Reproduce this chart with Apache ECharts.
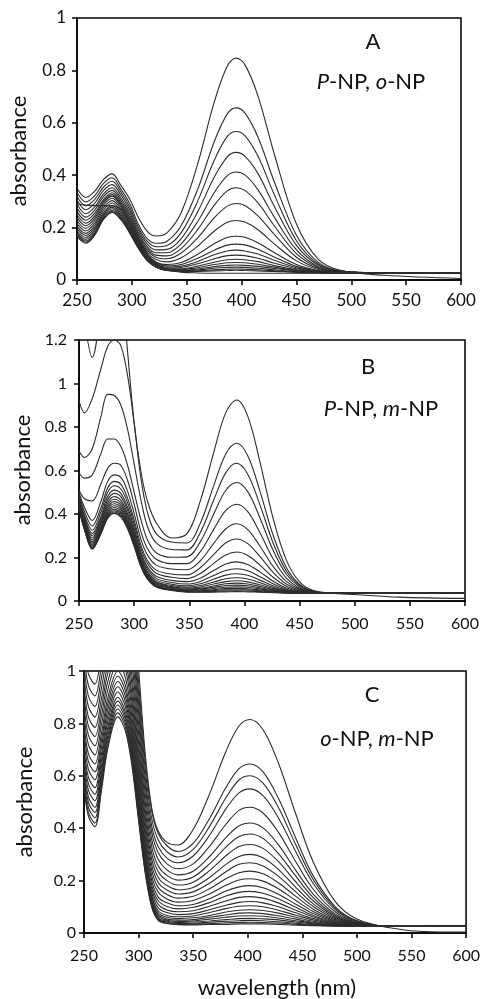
<!DOCTYPE html>
<html><head><meta charset="utf-8">
<script src="https://cdn.jsdelivr.net/npm/echarts@6/dist/echarts.min.js"></script>
<style>html,body{margin:0;padding:0;background:#fff}#c{width:483px;height:999px}</style>
</head><body><div id="c"></div>
<script>
// ---- tick values ----
const xTicks = [250, 300, 350, 400, 450, 500, 550, 600];
const yTicksA = [0, 0.2, 0.4, 0.6, 0.8, 1];
const yTicksB = [0, 0.2, 0.4, 0.6, 0.8, 1, 1.2];
const yTicksC = [0, 0.2, 0.4, 0.6, 0.8, 1];

// ---- panel A : P-NP, o-NP ----
const wlA = [250,258,266,274,282,290,298,306,314,322,332,345,360,375,387,395,403,415,430,450,470,490,530,600];
const a0  = [0.350,0.315,0.338,0.383,0.405,0.361,0.309,0.238,0.186,0.168,0.180,0.258,0.443,0.678,0.817,0.847,0.822,0.702,0.478,0.214,0.079,0.037,0.018,0.006];
const a1  = [0.335,0.298,0.321,0.368,0.390,0.347,0.292,0.212,0.158,0.140,0.148,0.208,0.346,0.527,0.634,0.657,0.638,0.545,0.373,0.171,0.067,0.035,0.027,0.028];
const a2  = [0.320,0.283,0.307,0.354,0.377,0.336,0.280,0.201,0.147,0.127,0.132,0.181,0.301,0.456,0.548,0.567,0.551,0.472,0.324,0.150,0.061,0.034,0.027,0.028];
const a3  = [0.305,0.268,0.292,0.341,0.364,0.325,0.268,0.191,0.137,0.115,0.117,0.158,0.260,0.392,0.470,0.487,0.473,0.406,0.280,0.132,0.056,0.033,0.027,0.028];
const a4  = [0.290,0.253,0.278,0.328,0.352,0.313,0.258,0.181,0.127,0.104,0.104,0.138,0.223,0.333,0.398,0.412,0.401,0.344,0.239,0.115,0.051,0.032,0.027,0.028];
const a5  = [0.276,0.240,0.266,0.318,0.342,0.304,0.248,0.174,0.120,0.095,0.092,0.120,0.192,0.285,0.340,0.352,0.342,0.294,0.206,0.101,0.048,0.031,0.027,0.028];
const a6  = [0.262,0.228,0.254,0.307,0.333,0.296,0.240,0.166,0.112,0.087,0.081,0.103,0.161,0.237,0.282,0.292,0.284,0.245,0.173,0.087,0.044,0.030,0.027,0.028];
const a7  = [0.250,0.217,0.244,0.300,0.326,0.290,0.232,0.160,0.105,0.078,0.069,0.085,0.129,0.186,0.220,0.227,0.221,0.192,0.137,0.073,0.040,0.029,0.027,0.028];
const a8  = [0.238,0.207,0.235,0.293,0.320,0.285,0.226,0.153,0.098,0.069,0.059,0.067,0.098,0.138,0.162,0.167,0.163,0.142,0.104,0.059,0.036,0.029,0.027,0.028];
const a9  = [0.226,0.197,0.226,0.285,0.312,0.278,0.219,0.148,0.094,0.066,0.054,0.059,0.083,0.114,0.133,0.137,0.134,0.117,0.087,0.052,0.034,0.028,0.027,0.028];
const a10 = [0.215,0.187,0.216,0.275,0.303,0.270,0.212,0.143,0.090,0.062,0.049,0.053,0.071,0.096,0.111,0.114,0.111,0.099,0.075,0.047,0.033,0.028,0.027,0.028];
const a11 = [0.205,0.178,0.207,0.266,0.294,0.262,0.206,0.138,0.086,0.059,0.046,0.048,0.062,0.081,0.093,0.095,0.093,0.083,0.064,0.043,0.031,0.028,0.027,0.028];
const a12 = [0.196,0.170,0.199,0.256,0.285,0.254,0.199,0.133,0.083,0.056,0.043,0.043,0.053,0.068,0.077,0.079,0.077,0.070,0.055,0.039,0.030,0.027,0.027,0.028];
const a13 = [0.188,0.162,0.191,0.250,0.278,0.248,0.195,0.130,0.080,0.055,0.042,0.040,0.047,0.059,0.066,0.067,0.066,0.060,0.049,0.036,0.030,0.027,0.027,0.028];
const a14 = [0.181,0.155,0.184,0.244,0.272,0.243,0.190,0.127,0.079,0.052,0.039,0.037,0.042,0.051,0.056,0.057,0.056,0.052,0.044,0.034,0.029,0.027,0.027,0.028];
const a15 = [0.175,0.149,0.178,0.238,0.266,0.237,0.186,0.124,0.077,0.052,0.038,0.035,0.038,0.045,0.048,0.049,0.048,0.045,0.039,0.032,0.028,0.027,0.027,0.028];
const a16 = [0.170,0.144,0.173,0.233,0.261,0.233,0.182,0.122,0.075,0.050,0.036,0.033,0.035,0.039,0.041,0.042,0.041,0.039,0.035,0.030,0.028,0.027,0.027,0.028];
const a17 = [0.166,0.140,0.170,0.230,0.258,0.230,0.179,0.120,0.074,0.049,0.036,0.032,0.033,0.035,0.036,0.037,0.036,0.035,0.033,0.029,0.028,0.027,0.027,0.028];
const aW  = [0.290,0.286,0.284,0.284,0.283,0.270,0.215,0.155,0.100,0.065,0.040,0.030,0.027,0.026,0.026,0.026,0.026,0.026,0.026,0.026,0.026,0.026,0.026,0.027];

// ---- panel B : P-NP, m-NP ----
const wlB = [250,255,262,270,276,282,288,294,300,306,312,320,334,348,360,372,383,393,403,414,426,438,450,462,480,500,540,600];
const b0  = [1.6,1.3,1.12,1.35,1.6,1.7,1.5,1.15,0.82,0.6,0.46,0.36,0.29,0.31,0.46,0.68,0.865,0.924,0.85,0.641,0.38,0.188,0.088,0.049,0.036,0.03,0.018,0.012];
const b1  = [0.92,0.865,0.93,1.07,1.17,1.2,1.173,1.037,0.817,0.569,0.409,0.310,0.271,0.267,0.358,0.528,0.675,0.725,0.668,0.506,0.303,0.154,0.076,0.046,0.036,0.035,0.035,0.036];
const b2  = [0.69,0.66,0.70,0.85,0.95,0.945,0.90,0.79,0.63,0.469,0.344,0.267,0.237,0.235,0.315,0.462,0.589,0.633,0.583,0.443,0.267,0.138,0.071,0.045,0.036,0.035,0.035,0.036];
const b3  = [0.59,0.565,0.58,0.68,0.745,0.745,0.71,0.625,0.50,0.377,0.282,0.222,0.201,0.203,0.272,0.398,0.508,0.545,0.503,0.383,0.233,0.123,0.065,0.043,0.036,0.035,0.035,0.036];
const b4  = [0.51,0.47,0.46,0.54,0.61,0.633,0.623,0.555,0.446,0.321,0.241,0.192,0.172,0.172,0.227,0.328,0.415,0.445,0.411,0.315,0.194,0.105,0.059,0.042,0.036,0.035,0.035,0.036];
const b5  = [0.50,0.43,0.37,0.46,0.55,0.58,0.568,0.505,0.402,0.286,0.212,0.165,0.147,0.144,0.185,0.264,0.331,0.355,0.328,0.253,0.159,0.090,0.054,0.040,0.035,0.035,0.035,0.036];
const b6  = [0.49,0.41,0.345,0.43,0.52,0.55,0.536,0.473,0.373,0.259,0.187,0.142,0.124,0.120,0.153,0.213,0.267,0.285,0.264,0.205,0.132,0.078,0.050,0.039,0.035,0.035,0.035,0.036];
const b7  = [0.48,0.395,0.325,0.41,0.50,0.53,0.515,0.453,0.354,0.243,0.173,0.128,0.109,0.103,0.126,0.172,0.211,0.225,0.209,0.165,0.109,0.068,0.046,0.038,0.035,0.035,0.035,0.036];
const b8  = [0.47,0.385,0.31,0.39,0.48,0.51,0.494,0.432,0.336,0.227,0.157,0.114,0.095,0.089,0.105,0.140,0.170,0.180,0.168,0.134,0.091,0.060,0.044,0.037,0.035,0.035,0.035,0.036];
const b9  = [0.46,0.375,0.30,0.38,0.465,0.495,0.479,0.418,0.323,0.215,0.147,0.104,0.085,0.078,0.090,0.117,0.140,0.148,0.139,0.112,0.079,0.054,0.042,0.037,0.035,0.035,0.035,0.036];
const b10 = [0.455,0.365,0.29,0.37,0.452,0.48,0.463,0.403,0.31,0.204,0.137,0.096,0.077,0.070,0.079,0.100,0.119,0.125,0.118,0.096,0.070,0.050,0.040,0.036,0.035,0.035,0.035,0.036];
const b11 = [0.45,0.36,0.28,0.36,0.44,0.468,0.451,0.392,0.30,0.196,0.13,0.089,0.071,0.064,0.071,0.087,0.102,0.107,0.101,0.084,0.063,0.047,0.039,0.036,0.035,0.035,0.035,0.036];
const b12 = [0.445,0.355,0.272,0.35,0.43,0.457,0.44,0.381,0.291,0.189,0.124,0.085,0.066,0.059,0.064,0.078,0.089,0.093,0.088,0.075,0.058,0.045,0.038,0.036,0.035,0.035,0.035,0.036];
const b13 = [0.44,0.35,0.265,0.34,0.42,0.447,0.429,0.371,0.283,0.183,0.12,0.08,0.062,0.055,0.059,0.069,0.079,0.082,0.078,0.067,0.053,0.043,0.038,0.036,0.035,0.035,0.035,0.036];
const b14 = [0.435,0.345,0.258,0.333,0.41,0.438,0.421,0.363,0.276,0.177,0.115,0.076,0.059,0.052,0.055,0.063,0.071,0.073,0.070,0.061,0.050,0.042,0.037,0.036,0.035,0.035,0.035,0.036];
const b15 = [0.43,0.34,0.252,0.327,0.403,0.43,0.412,0.356,0.27,0.173,0.112,0.073,0.056,0.049,0.051,0.057,0.063,0.065,0.063,0.056,0.047,0.040,0.037,0.035,0.035,0.035,0.035,0.036];
const b16 = [0.428,0.336,0.247,0.322,0.396,0.422,0.405,0.349,0.265,0.169,0.108,0.07,0.053,0.047,0.047,0.052,0.057,0.058,0.056,0.051,0.044,0.039,0.036,0.035,0.035,0.035,0.035,0.036];
const b17 = [0.425,0.332,0.243,0.317,0.39,0.415,0.398,0.343,0.26,0.165,0.105,0.068,0.051,0.045,0.045,0.048,0.051,0.052,0.051,0.047,0.042,0.038,0.036,0.035,0.035,0.035,0.035,0.036];
const b18 = [0.422,0.329,0.24,0.313,0.385,0.409,0.392,0.337,0.255,0.162,0.103,0.0665,0.0496,0.043,0.042,0.044,0.046,0.047,0.046,0.043,0.040,0.037,0.036,0.035,0.035,0.035,0.035,0.036];
const b19 = [0.42,0.326,0.238,0.31,0.38,0.403,0.386,0.332,0.251,0.159,0.101,0.064,0.048,0.041,0.040,0.041,0.042,0.043,0.042,0.0405,0.038,0.036,0.035,0.035,0.035,0.035,0.035,0.036];

// ---- panel C : o-NP, m-NP ----
const wlC = [250,254,260,266,272,281,288,294,300,306,312,318,326,336,350,365,380,392,402,414,428,444,460,480,500,530,560,600];
const c0  = [1.36,1.24,1.2,1.332,1.488,1.6,1.536,1.333,1.009,0.689,0.478,0.389,0.346,0.336,0.395,0.531,0.693,0.79,0.815,0.776,0.65,0.454,0.271,0.121,0.053,0.02,0.006,0.004];
const c1  = [1.31,1.19,1.15,1.266,1.402,1.5,1.441,1.257,0.958,0.661,0.467,0.38,0.333,0.311,0.342,0.437,0.555,0.627,0.645,0.615,0.515,0.362,0.218,0.101,0.047,0.026,0.026,0.028];
const c2  = [1.26,1.14,1.1,1.216,1.352,1.45,1.392,1.209,0.917,0.629,0.438,0.355,0.31,0.29,0.319,0.407,0.516,0.584,0.6,0.572,0.48,0.337,0.204,0.095,0.046,0.026,0.026,0.028];
const c3  = [1.21,1.09,1.05,1.166,1.302,1.4,1.342,1.163,0.878,0.595,0.409,0.329,0.286,0.268,0.294,0.373,0.474,0.535,0.55,0.524,0.44,0.31,0.189,0.089,0.044,0.026,0.026,0.028];
const c4  = [1.16,1.04,1.0,1.116,1.252,1.35,1.292,1.119,0.841,0.566,0.385,0.306,0.264,0.245,0.264,0.331,0.415,0.468,0.48,0.458,0.385,0.272,0.167,0.081,0.041,0.026,0.026,0.028];
const c5  = [1.11,0.99,0.95,1.066,1.202,1.3,1.243,1.072,0.801,0.534,0.357,0.281,0.241,0.222,0.236,0.292,0.364,0.409,0.42,0.401,0.337,0.239,0.148,0.073,0.039,0.026,0.026,0.028];
const c6  = [1.065,0.945,0.905,1.019,1.153,1.25,1.192,1.026,0.762,0.502,0.331,0.256,0.22,0.202,0.214,0.264,0.328,0.368,0.378,0.361,0.304,0.217,0.135,0.068,0.038,0.026,0.026,0.028];
const c7  = [1.025,0.905,0.865,0.976,1.106,1.2,1.143,0.981,0.724,0.472,0.305,0.234,0.2,0.183,0.194,0.238,0.295,0.33,0.338,0.323,0.273,0.195,0.123,0.063,0.036,0.026,0.026,0.028];
const c8  = [0.985,0.865,0.825,0.936,1.066,1.16,1.103,0.945,0.692,0.445,0.282,0.212,0.181,0.165,0.174,0.212,0.262,0.292,0.3,0.287,0.243,0.174,0.111,0.059,0.035,0.026,0.026,0.028];
const c9  = [0.945,0.825,0.785,0.896,1.026,1.12,1.064,0.907,0.661,0.42,0.26,0.193,0.164,0.149,0.157,0.19,0.234,0.262,0.268,0.256,0.217,0.157,0.101,0.055,0.034,0.026,0.026,0.028];
const c10 = [0.91,0.79,0.75,0.862,0.995,1.09,1.034,0.878,0.634,0.397,0.24,0.174,0.147,0.133,0.14,0.169,0.207,0.23,0.236,0.226,0.192,0.14,0.091,0.051,0.033,0.026,0.026,0.028];
const c11 = [0.875,0.755,0.715,0.829,0.963,1.06,1.004,0.849,0.608,0.374,0.219,0.156,0.13,0.118,0.124,0.149,0.182,0.202,0.207,0.198,0.169,0.124,0.082,0.047,0.032,0.026,0.026,0.028];
const c12 = [0.84,0.72,0.68,0.796,0.932,1.03,0.973,0.82,0.584,0.353,0.201,0.137,0.115,0.104,0.109,0.131,0.16,0.176,0.181,0.173,0.148,0.11,0.074,0.044,0.031,0.026,0.026,0.028];
const c13 = [0.805,0.685,0.645,0.762,0.901,1.0,0.944,0.793,0.559,0.335,0.184,0.123,0.101,0.092,0.098,0.116,0.141,0.155,0.159,0.152,0.131,0.098,0.067,0.041,0.03,0.026,0.026,0.028];
const c14 = [0.775,0.655,0.615,0.735,0.878,0.98,0.922,0.773,0.541,0.317,0.169,0.109,0.088,0.081,0.085,0.102,0.122,0.136,0.139,0.133,0.115,0.087,0.061,0.039,0.029,0.026,0.026,0.028];
const c15 = [0.745,0.625,0.585,0.709,0.855,0.96,0.901,0.754,0.524,0.302,0.156,0.096,0.078,0.07,0.074,0.089,0.106,0.117,0.12,0.115,0.1,0.077,0.055,0.037,0.028,0.026,0.026,0.028];
const c16 = [0.715,0.595,0.555,0.682,0.832,0.94,0.881,0.735,0.508,0.289,0.143,0.085,0.067,0.062,0.065,0.078,0.093,0.102,0.104,0.1,0.087,0.068,0.05,0.035,0.028,0.026,0.026,0.028];
const c17 = [0.69,0.57,0.53,0.659,0.811,0.92,0.862,0.716,0.493,0.277,0.134,0.077,0.06,0.055,0.058,0.067,0.08,0.087,0.089,0.086,0.076,0.06,0.045,0.033,0.027,0.026,0.026,0.028];
const c18 = [0.665,0.545,0.505,0.635,0.789,0.9,0.842,0.699,0.479,0.265,0.125,0.069,0.053,0.049,0.051,0.06,0.069,0.076,0.077,0.074,0.066,0.053,0.041,0.031,0.027,0.026,0.026,0.028];
const c19 = [0.64,0.52,0.48,0.614,0.772,0.885,0.827,0.686,0.468,0.258,0.119,0.064,0.049,0.044,0.046,0.053,0.06,0.065,0.066,0.064,0.057,0.047,0.038,0.03,0.026,0.026,0.026,0.028];
const c20 = [0.62,0.5,0.46,0.595,0.755,0.87,0.814,0.673,0.457,0.251,0.113,0.059,0.045,0.04,0.042,0.046,0.051,0.055,0.056,0.054,0.05,0.042,0.035,0.029,0.026,0.026,0.026,0.028];
const c21 = [0.6,0.48,0.44,0.577,0.739,0.855,0.799,0.66,0.447,0.243,0.108,0.054,0.041,0.036,0.037,0.041,0.045,0.047,0.048,0.047,0.043,0.037,0.032,0.028,0.026,0.026,0.026,0.028];
const c22 = [0.58,0.46,0.42,0.559,0.722,0.84,0.785,0.648,0.438,0.237,0.103,0.051,0.037,0.033,0.034,0.036,0.039,0.04,0.041,0.04,0.038,0.034,0.03,0.027,0.026,0.026,0.026,0.028];
const c23 = [0.566,0.446,0.406,0.544,0.708,0.825,0.77,0.635,0.429,0.231,0.1,0.048,0.036,0.032,0.031,0.033,0.033,0.035,0.035,0.035,0.033,0.03,0.028,0.026,0.025,0.025,0.025,0.027];

const curvesA = [aW,a0,a1,a2,a3,a4,a5,a6,a7,a8,a9,a10,a11,a12,a13,a14,a15,a16,a17];
const curvesB = [b0,b1,b2,b3,b4,b5,b6,b7,b8,b9,b10,b11,b12,b13,b14,b15,b16,b17,b18,b19];
const curvesC = [c0,c1,c2,c3,c4,c5,c6,c7,c8,c9,c10,c11,c12,c13,c14,c15,c16,c17,c18,c19,c20,c21,c22,c23];

// ---- rendering ----
const FONT = 'Lato';
const LINE = '#2c2c2c';
const chart = echarts.init(document.getElementById('c'), null, {renderer: 'canvas'});

function seriesFor(curves, wl, idx) {
  return curves.map(c => ({
    type: 'line', xAxisIndex: idx, yAxisIndex: idx,
    data: wl.map((w, i) => [w, c[i]]),
    smooth: 0.35, symbol: 'none', showSymbol: false, clip: true, silent: true,
    lineStyle: {color: LINE, width: 1.1}
  }));
}
function xAx(idx, fs, margin) {
  return {
    type: 'value', gridIndex: idx, min: xTicks[0], max: xTicks[xTicks.length - 1],
    interval: xTicks[1] - xTicks[0],
    axisLine: {show: true, onZero: false, lineStyle: {color: '#000', width: 1.5}},
    axisTick: {show: true, inside: false, length: 5, lineStyle: {color: '#000', width: 1.5}},
    axisLabel: {show: true, fontSize: fs, fontFamily: FONT, color: '#111', margin: margin},
    splitLine: {show: false}
  };
}
function yAx(idx, ticks, fs, margin) {
  return {
    type: 'value', gridIndex: idx, min: ticks[0], max: ticks[ticks.length - 1],
    interval: ticks[1] - ticks[0],
    axisLine: {show: true, onZero: false, lineStyle: {color: '#000', width: 1.5}},
    axisTick: {show: true, inside: false, length: 5, lineStyle: {color: '#000', width: 1.5}},
    axisLabel: {show: true, fontSize: fs, fontFamily: FONT, color: '#111', margin: margin,
      formatter: v => String(Math.round(v * 10) / 10)},
    splitLine: {show: false}
  };
}
function txt(x, y, text, size, rot, rich) {
  const st = {text: text, fontSize: size, fontFamily: FONT, fill: '#111',
    align: 'center', verticalAlign: 'middle', textAlign: 'center', textVerticalAlign: 'middle'};
  if (rich) st.rich = {i: {fontStyle: 'italic', fontSize: size, fontFamily: FONT, fill: '#111'}};
  return {type: 'text', x: x, y: y, rotation: rot || 0, silent: true, style: st};
}

chart.setOption({
  animation: false,
  backgroundColor: '#fff',
  grid: [
    {left: 77, top: 18, width: 384, height: 262, show: true, borderColor: '#000', borderWidth: 1.5, backgroundColor: 'transparent'},
    {left: 79, top: 340, width: 386, height: 261, show: true, borderColor: '#000', borderWidth: 1.5, backgroundColor: 'transparent'},
    {left: 84, top: 671, width: 386, height: 262, show: true, borderColor: '#000', borderWidth: 1.5, backgroundColor: 'transparent'}
  ],
  xAxis: [xAx(0, 17, 12), xAx(1, 16, 15), xAx(2, 16, 15)],
  yAxis: [yAx(0, yTicksA, 17, 11), yAx(1, yTicksB, 16, 12), yAx(2, yTicksC, 16, 8)],
  series: [].concat(seriesFor(curvesA, wlA, 0), seriesFor(curvesB, wlB, 1), seriesFor(curvesC, wlC, 2)),
  graphic: [
    txt(19, 151, 'absorbance', 22, Math.PI / 2),
    txt(23, 470, 'absorbance', 22, Math.PI / 2),
    txt(25, 802, 'absorbance', 22, Math.PI / 2),
    txt(277, 988, 'wavelength (nm)', 22),
    txt(373, 42, 'A', 22),
    txt(371, 82, '{i|P}-NP, {i|o}-NP', 22, 0, true),
    txt(368, 367, 'B', 22),
    txt(381, 409, '{i|P}-NP, {i|m}-NP', 22, 0, true),
    txt(372, 695, 'C', 22),
    txt(377, 739, '{i|o}-NP, {i|m}-NP', 22, 0, true)
  ]
});
</script>
</body></html>
